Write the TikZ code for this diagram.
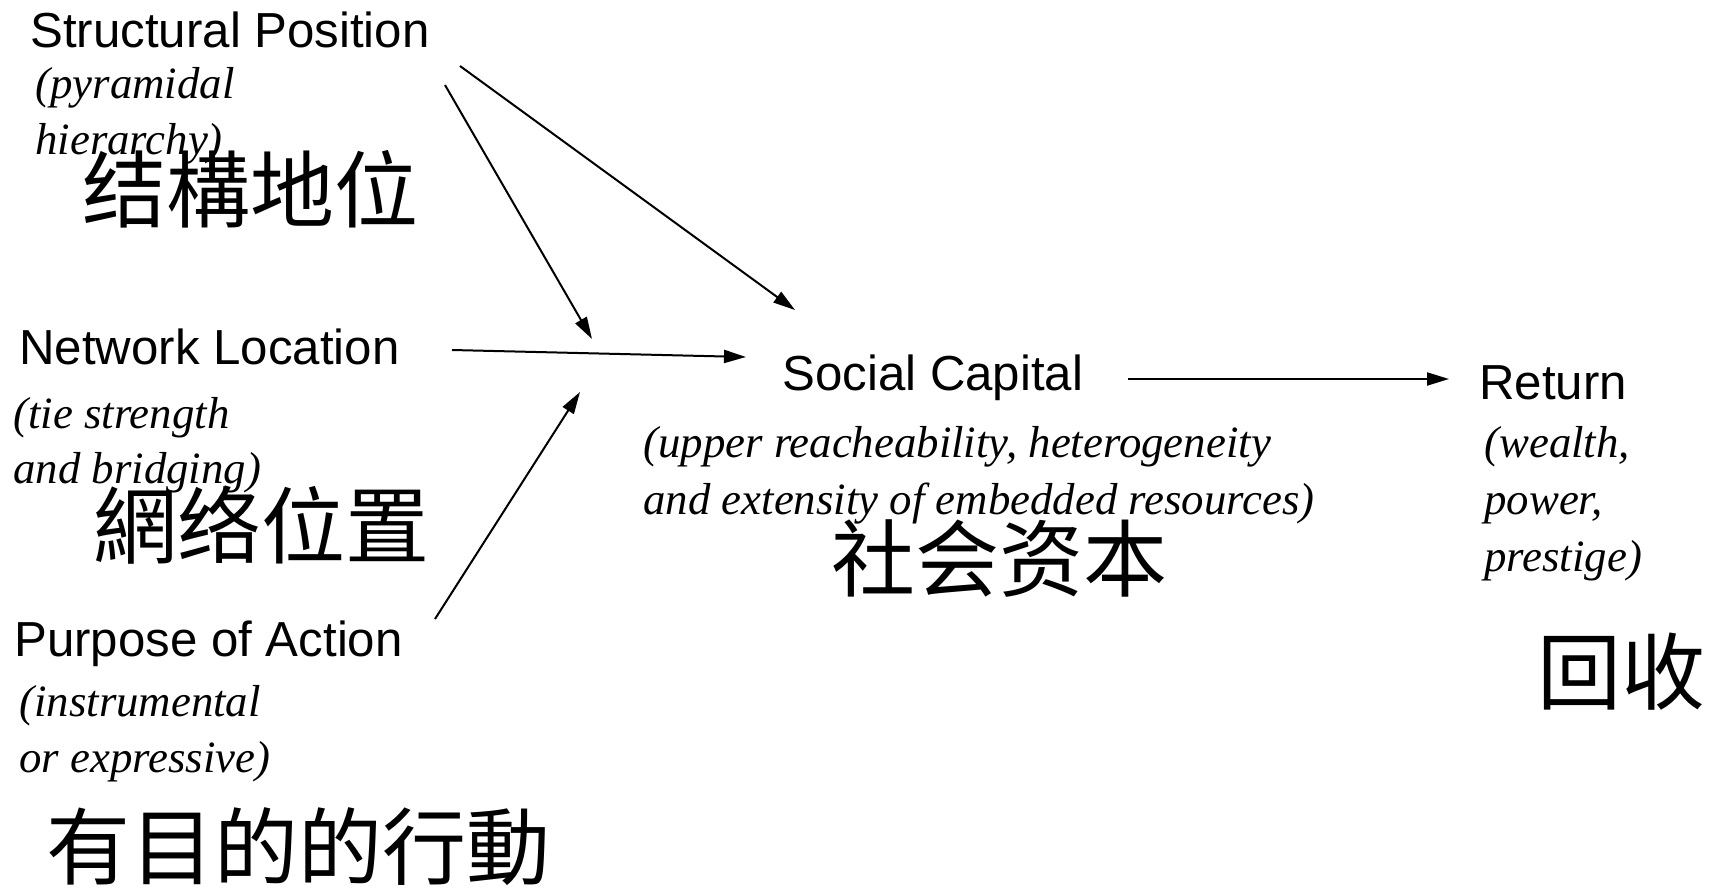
\documentclass[tikz,border=0pt]{standalone}
\usepackage{fontspec}
\setmainfont{Liberation Serif}
\setsansfont{Liberation Sans}
\newfontfamily\cjk{Noto Sans CJK SC}
\usetikzlibrary{arrows.meta}
\tikzset{
  lab/.style={font=\sffamily\fontsize{24.6}{28}\selectfont, inner sep=0pt, anchor=base west},
  sub/.style={font=\itshape\fontsize{22.4}{26}\selectfont, inner sep=0pt, anchor=base west},
  han/.style={font=\cjk\fontsize{42}{46}\selectfont, inner sep=0pt, anchor=base west},
  arr/.style={-{Triangle[length=11pt,width=6.5pt]}, line width=1pt}
}
\begin{document}
\begin{tikzpicture}[x=0.5pt,y=-0.5pt]
\useasboundingbox (0,0) rectangle (1715,889);
% left column
\node[lab] (sp) at (30,47) {Structural Position};
\node[sub] (sp1) at (35,98) {(pyramidal};
\node[sub] (sp2) at (35,154) {hierarchy)};
\node[han] (sph) at (82,221) {结構地位};
\node[lab] (nl) at (19,364) {Network Location};
\node[sub] (nl1) at (13,428) {(tie strength};
\node[sub] (nl2) at (13,483) {and bridging)};
\node[han] (nlh) at (93,557) {網络位置};
\node[lab] (pa) at (14,656) {Purpose of Action};
\node[sub] (pa1) at (19,716) {(instrumental};
\node[sub] (pa2) at (19,772) {or expressive)};
\node[han] (pah) at (46,878) {有目的的行動};
% social capital
\node[lab] (sc) at (782,390) {Social Capital};
\node[sub] (sc1) at (643,457) {(upper reacheability, heterogeneity};
\node[sub] (sc2) at (643,514) {and extensity of embedded resources)};
\node[han] (sch) at (831,590) {社会资本};
% return
\node[lab] (rt) at (1479,399) {Return};
\node[sub] (rt1) at (1484,457) {(wealth,};
\node[sub] (rt2) at (1484,514) {power,};
\node[sub] (rt3) at (1484,571) {prestige)};
\node[han] (rth) at (1537,703) {回收};
% connector ends
\coordinate (a1) at (445,85);
\coordinate (a2) at (592,339);
\coordinate (b1) at (460,66);
\coordinate (b2) at (795,310);
\coordinate (c1) at (452,350);
\coordinate (c2) at (746,357);
\coordinate (d1) at (435,619);
\coordinate (d2) at (580,392);
\coordinate (e1) at (1128,379);
\coordinate (e2) at (1449,379);
\draw[arr] (a1) -- (a2);
\draw[arr] (b1) -- (b2);
\draw[arr] (c1) -- (c2);
\draw[arr] (d1) -- (d2);
\draw[arr] (e1) -- (e2);
\end{tikzpicture}
\end{document}
